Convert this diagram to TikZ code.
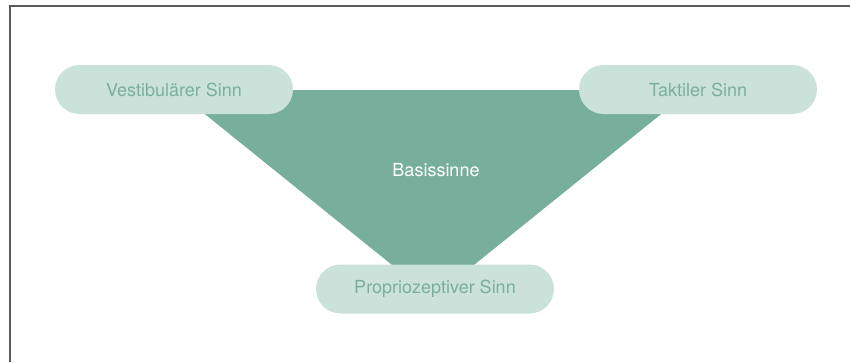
\documentclass[tikz,border=0pt]{standalone}
\usepackage{fontspec}
\setmainfont{TeX Gyre Heros}
\definecolor{pillfill}{HTML}{CAE2D9}
\definecolor{pilltext}{HTML}{7BAF9C}
\definecolor{trifill}{HTML}{78AE9C}
\definecolor{framecol}{HTML}{5A5A5A}
\tikzset{
  pill/.style={fill=pillfill, text=pilltext, rounded corners=24.5pt, minimum width=238pt, minimum height=49pt, inner sep=0pt, font=\fontsize{18}{21}\selectfont},
  centerlabel/.style={text=white, font=\fontsize{18}{21}\selectfont, inner sep=0pt}
}
\begin{document}
\begin{tikzpicture}[x=1pt,y=-1pt]
\useasboundingbox (0,0) rectangle (850,362);
\draw[framecol, line width=1.3pt] (10,362) -- (10,6) -- (850,6);
\coordinate (tl) at (175,90);
\coordinate (tr) at (691,90);
\coordinate (tb) at (433,298);
\fill[trifill] (tl) -- (tr) -- (tb) -- cycle;
\node[centerlabel] (basis) at (436,170) {Basissinne};
\node[pill] (vest) at (174,89.5) {Vestibulärer Sinn};
\node[pill] (takt) at (698,89.5) {Taktiler Sinn};
\node[pill] (prop) at (435,289) {Propriozeptiver Sinn};
\end{tikzpicture}
\end{document}
